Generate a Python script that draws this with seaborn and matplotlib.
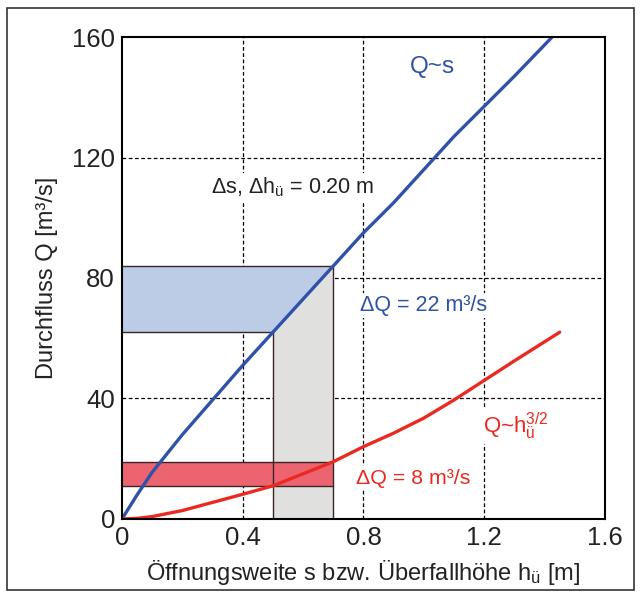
import numpy as np
import pandas as pd
import seaborn as sns
import matplotlib
matplotlib.use("Agg")
import matplotlib.pyplot as plt
from matplotlib.patches import Rectangle

# ---- data ----
s_lin = [0, 0.05, 0.1, 0.2, 0.3, 0.4, 0.5, 0.6, 0.7, 0.8, 0.9, 1.0, 1.1, 1.2, 1.3, 1.425]
Q_lin = [0, 8, 15.5, 28, 39.5, 51, 62, 73, 84, 95, 105, 116, 127, 137, 147, 160]
h_pow = [0, 0.05, 0.1, 0.2, 0.3, 0.4, 0.5, 0.6, 0.7, 0.8, 0.9, 1.0, 1.1, 1.2, 1.3, 1.45]
Q_pow = [0, 0.2, 0.8, 2.8, 5.5, 8.2, 11, 15, 19, 24, 28.5, 33.5, 39.5, 46, 52.5, 62]
s_band = [0.5, 0.7]
Q_band_lin = [62, 84]
Q_band_pow = [11, 19]
x_ticks = [0, 0.4, 0.8, 1.2, 1.6]
x_tick_labels = ["0", "0.4", "0.8", "1.2", "1.6"]
y_ticks = [0, 40, 80, 120, 160]

BLUE = "#2f52a8"
RED = "#ea2a20"
EDGE = "#3a2626"

sns.set_style("white")
plt.rcParams["font.family"] = ["Liberation Sans", "DejaVu Sans"]
plt.rcParams["mathtext.fontset"] = "custom"
plt.rcParams["mathtext.rm"] = "Liberation Sans"
plt.rcParams["mathtext.it"] = "Liberation Sans:italic"

fig = plt.figure(figsize=(6.41, 5.97), dpi=100)
ax = fig.add_axes([0.1903, 0.1307, 0.7535, 0.8073])

# figure border
fig.patches.append(Rectangle((0.011, 0.012), 0.978, 0.975, transform=fig.transFigure,
                             fill=False, edgecolor="#333333", lw=1.2))

# shaded regions
ax.fill_between([0, s_band[1]], Q_band_lin[0], Q_band_lin[1], color="#bccbe6", lw=0, zorder=1)
xs = np.linspace(s_band[0], s_band[1], 50)
ax.fill_between(xs, 0, np.interp(xs, s_lin, Q_lin), color="#e0e0df", lw=0, zorder=1.5)
ax.fill_between([0, s_band[1]], Q_band_pow[0], Q_band_pow[1], color="#ec6470", lw=0, zorder=2)

# outlines
ekw = dict(color=EDGE, lw=1.0, zorder=2.5)
ax.plot([0, s_band[1]], [Q_band_lin[1]] * 2, **ekw)
ax.plot([0, s_band[0]], [Q_band_lin[0]] * 2, **ekw)
ax.plot([0, s_band[1]], [Q_band_pow[1]] * 2, **ekw)
ax.plot([0, s_band[1]], [Q_band_pow[0]] * 2, **ekw)
ax.plot([s_band[0]] * 2, [0, Q_band_lin[0]], **ekw)
ax.plot([s_band[1]] * 2, [0, Q_band_lin[1]], **ekw)

# curves
df_lin = pd.DataFrame({"s": s_lin, "Q": Q_lin})
df_pow = pd.DataFrame({"s": h_pow, "Q": Q_pow})
sns.lineplot(data=df_lin, x="s", y="Q", ax=ax, color=BLUE, lw=2.4, zorder=4)
sns.lineplot(data=df_pow, x="s", y="Q", ax=ax, color=RED, lw=2.4, zorder=4)

# grid
for x in x_ticks[1:-1]:
    ax.axvline(x, color="black", lw=0.9, ls=(0, (3, 2)), zorder=0.5)
for y in y_ticks[1:-1]:
    ax.axhline(y, color="black", lw=0.9, ls=(0, (3, 2)), zorder=0.5)

ax.set_xlim(0, 1.6)
ax.set_ylim(0, 160)
ax.set_xticks(x_ticks)
ax.set_xticklabels(x_tick_labels)
ax.set_yticks(y_ticks)
ax.tick_params(axis="both", labelsize=18.5, length=4, direction="in", width=1.2, color="black",
               pad=5, labelcolor="#222222")
for sp in ax.spines.values():
    sp.set_color("black")
    sp.set_linewidth(1.5)
    sp.set_zorder(5)

ax.set_xlabel("Öffnungsweite s bzw. Überfallhöhe h$_\\mathregular{ü}$ [m]", fontsize=17,
              color="#222222", labelpad=6)
ax.set_ylabel("Durchfluss Q [m³/s]", fontsize=17, color="#222222", labelpad=10)

bb = dict(facecolor="white", edgecolor="none", pad=1.5)
ax.text(1.027, 150, "Q~s", color=BLUE, fontsize=17.5, ha="center", va="center", bbox=bb, zorder=6)
ax.text(0.566, 110.3, "Δs, Δh$_\\mathregular{ü}$ = 0.20 m", color="#222222", fontsize=15.5,
        ha="center", va="center", bbox=bb, zorder=6)
ax.text(1.0, 70.8, "ΔQ = 22 m³/s", color=BLUE, fontsize=15.5, ha="center", va="center", bbox=bb, zorder=6)
ax.text(1.306, 30.7, "Q~h$_\\mathregular{ü}^\\mathregular{3/2}$", color=RED, fontsize=16,
        ha="center", va="center", bbox=bb, zorder=6)
ax.text(0.964, 13.6, "ΔQ = 8 m³/s", color=RED, fontsize=15.4, ha="center", va="center", bbox=bb, zorder=6)

fig.savefig("out.png", dpi=100)
